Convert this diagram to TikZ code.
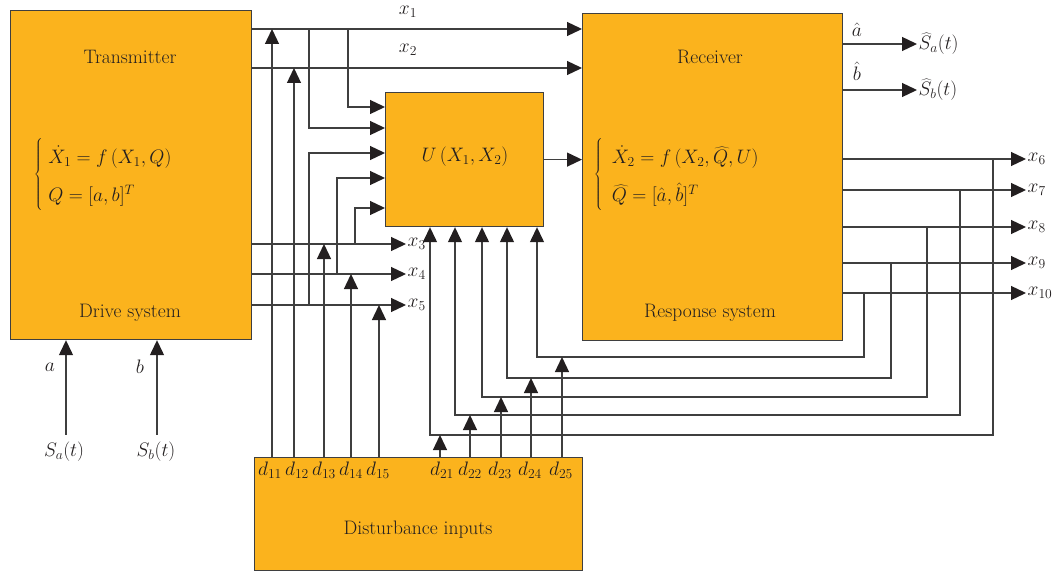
\RequirePackage{fix-cm}
\documentclass[tikz,border=0pt]{standalone}
\usetikzlibrary{arrows.meta, calc}
\definecolor{corange}{HTML}{FBB31D}
\definecolor{cwire}{HTML}{3F3F3F}
\definecolor{chead}{HTML}{231F20}
\tikzset{
  every picture/.style={line width=1.3pt},
  blk/.style={draw=cwire, fill=corange, line width=1.2pt, anchor=north west, inner sep=0pt},
  wire/.style={draw=cwire, line width=1.3pt},
  arr/.style={wire, -{Triangle[length=15pt, width=14pt, color=chead]}},
  lbl/.style={inner sep=1pt},
}

\begin{document}
\begin{tikzpicture}[x=1pt, y=-1pt,
  every node/.style={font=\fontsize{19.5}{23}\selectfont, text=chead}]
  \useasboundingbox (0,0) rectangle (1061,575);
  % blocks
  \node[blk, minimum width=241pt, minimum height=329pt] (tx) at (10,10) {};
  \node[blk, minimum width=260pt, minimum height=327pt] (rx) at (582,13) {};
  \node[blk, minimum width=158pt, minimum height=134pt] (ux) at (385,92) {};
  \node[blk, minimum width=328pt, minimum height=113pt] (dx) at (254,457) {};
  % texts in the blocks
  \node (txname) at (130,57) {Transmitter};
  \node (txsys) at (130,313) {Drive system};
  \node (rxname) at (710,57) {Receiver};
  \node (rxsys) at (710,313) {Response system};
  \node (uname) at (465,157) {$U\,(X_1, X_2)$};
  \node (dname) at (418,530) {Disturbance inputs};
  \node[anchor=west] (txeq) at (30,175) {\renewcommand{\arraystretch}{1.65}%
    $\left\{\;\begin{array}{@{}l}\dot X_1 = f\,(X_1, Q)\\ Q = [a, b]^T\end{array}\right.$};
  \node[anchor=west] (rxeq) at (590,175) {\renewcommand{\arraystretch}{1.65}%
    $\left\{\hspace{9pt}\begin{array}{@{}l}\dot X_2 = f\,(X_2, \widehat{Q}, U)\\ \widehat{Q} = [\hat a, \hat b]^T\end{array}\right.$};
  % signal labels
  \node[lbl] (lx1) at (408,12) {$x_1$};
  \node[lbl] (lx2) at (408,50) {$x_2$};
  \foreach \n/\y in {3/244,4/274,5/305}
    \node[lbl, anchor=west] (x\n) at (406,\y) {$x_\n$};
  \foreach \n/\y in {6/159,7/190,8/227,9/263,10/293}
    \node[lbl, anchor=west] (x\n) at (1026,\y) {$x_{\n}$};
  \node[lbl] (ah) at (857,30) {$\hat a$};
  \node[lbl] (bh) at (857,71) {$\hat b$};
  \node[lbl, anchor=west] (sah) at (917,44) {$\widehat{S}_a(t)$};
  \node[lbl, anchor=west] (sbh) at (917,90) {$\widehat{S}_b(t)$};
  \node[lbl] (la) at (50,367) {$a$};
  \node[lbl] (lb) at (140,367) {$b$};
  \node[lbl] (sa) at (64,452) {$S_a(t)$};
  \node[lbl] (sb) at (156,452) {$S_b(t)$};
  \foreach \n/\x in {11/270,12/297,13/324,14/351,15/378,21/442,22/470,23/500,24/530,25/561}
    \node[lbl] (d\n) at (\x,470) {$d_{\n}$};
  % transmitter outputs
  \draw[arr] (tx.east |- 0,29) -- (rx.west |- 0,29);
  \draw[arr] (tx.east |- 0,68) -- (rx.west |- 0,68);
  \foreach \n/\y in {3/244,4/274,5/305}
    \draw[arr] (tx.east |- 0,\y) -- (x\n.west);
  % branches into U
  \draw[arr] (348,29) |- (ux.west |- 0,107);
  \draw[arr] (309,29) |- (ux.west |- 0,128);
  \draw[arr] (309,305) |- (ux.west |- 0,153);
  \draw[arr] (337,274) |- (ux.west |- 0,178);
  \draw[arr] (355,244) |- (ux.west |- 0,208);
  \draw[arr] (ux.east) -- (rx.west |- ux.east);
  % first disturbances
  \foreach \x/\y in {272/29,294/68,324/244,351/274,379/305}
    \draw[arr] (dx.north -| \x,0) -- (\x,\y);
  % receiver outputs and feedback to U
  \foreach \n/\y in {6/159,7/190,8/227,9/263,10/293}
    \draw[arr] (rx.east |- 0,\y) -- (x\n.west);
  \foreach \k/\y/\f/\u in {993/159/435/430, 960/190/415/455, 927/227/397/482, 891/263/378/507, 864/293/357/537}
    \draw[arr] (\k,\y) |- (\u,\f) -- (ux.south -| \u,0);
  % second disturbances
  \foreach \x/\f in {440/435,470/415,501/397,531/378,562/357}
    \draw[arr] (dx.north -| \x,0) -- (\x,\f);
  % estimates
  \draw[arr] (rx.east |- 0,44) -- (sah.west);
  \draw[arr] (rx.east |- 0,90) -- (sbh.west);
  % parameters into the transmitter
  \draw[arr] ($(sa.north)+(2,-6)$) -- (tx.south -| 66,0);
  \draw[arr] ($(sb.north)+(1,-6)$) -- (tx.south -| 157,0);
\end{tikzpicture}
\end{document}
